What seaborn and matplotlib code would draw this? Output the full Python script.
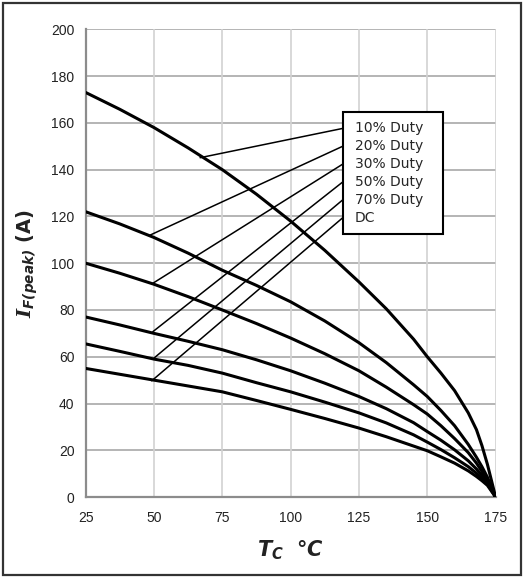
import pandas as pd
import matplotlib
matplotlib.use("Agg")
import matplotlib.pyplot as plt
import seaborn as sns
from matplotlib.patches import Rectangle

# data
tc = [25, 37.5, 50, 62.5, 75, 87.5, 100, 112.5, 125, 135, 145, 150, 155, 160, 165, 168, 170, 172, 175]
duty_10 = [173, 165.8, 158, 149.3, 140, 129.5, 118, 105.5, 92, 80.5, 67.5, 60, 53, 45.5, 36, 28.8, 22, 14, 0]
duty_20 = [122, 116.8, 111, 104.3, 97, 90.5, 83.5, 75.3, 66, 57.5, 48, 43, 37, 30.5, 22.5, 17, 13, 8.5, 0]
duty_30 = [100, 95.7, 91, 85.7, 80, 74.2, 68, 61.3, 54, 47, 39.5, 35.5, 30.5, 25, 19, 14.5, 11, 7.5, 0]
duty_50 = [77, 73.6, 70, 66.6, 63, 58.7, 54, 48.7, 43, 37.8, 31.8, 28, 24.3, 20.2, 15.5, 12, 9.3, 6.5, 0]
duty_70 = [65.5, 62.3, 59, 56.3, 53, 48.9, 45, 40.6, 36, 31.7, 26.6, 23.5, 20.3, 16.8, 13, 10.2, 8, 5.6, 0]
duty_dc = [55, 52.5, 50, 47.5, 45, 41.3, 37.5, 33.6, 29.5, 25.8, 21.8, 19.8, 17.2, 14.5, 11.2, 8.8, 7, 5, 0]
labels = ["10% Duty", "20% Duty", "30% Duty", "50% Duty", "70% Duty", "DC"]

# where each leader line touches its curve
leader_x = [66.9, 48.6, 49.2, 49.6, 49.6, 49.2]
leader_y = [145.1, 112, 91.1, 70.7, 59, 49.7]

xticks = [25, 50, 75, 100, 125, 150, 175]
yticks = list(range(0, 201, 20))

series = [duty_10, duty_20, duty_30, duty_50, duty_70, duty_dc]
df = pd.concat([pd.DataFrame({"Tc": tc, "IF": s, "duty": lab})
                for s, lab in zip(series, labels)])

sns.set_style("white")
plt.rcParams["mathtext.fontset"] = "custom"
plt.rcParams["mathtext.it"] = "DejaVu Serif:italic:bold"
plt.rcParams["mathtext.sf"] = "DejaVu Sans:italic:bold"
plt.rcParams["mathtext.rm"] = "DejaVu Sans:bold"
plt.rcParams["mathtext.bf"] = "DejaVu Sans:bold"

fig = plt.figure(figsize=(5.25, 5.8), dpi=100)
ax = fig.add_axes([0.163, 0.143, 0.781, 0.8065])

sns.lineplot(data=df, x="Tc", y="IF", hue="duty", palette={l: "black" for l in labels},
             linewidth=2.2, legend=False, ax=ax, zorder=3)

ax.set_xlim(25, 175)
ax.set_ylim(0, 200)
ax.set_xticks(xticks)
ax.set_yticks(yticks)
for y in yticks:
    ax.axhline(y, color="#a8a8a8", lw=1.2, zorder=1)
for x in xticks:
    ax.axvline(x, color="#d2d2d2", lw=1.2, zorder=1)
for side in ["top", "right"]:
    ax.spines[side].set_visible(False)
for side in ["left", "bottom"]:
    ax.spines[side].set_color("#8c8c8c")
    ax.spines[side].set_linewidth(1.6)

ax.tick_params(length=0, labelsize=10, colors="#222222")
ax.tick_params(axis="y", pad=8)
ax.tick_params(axis="x", pad=10)
for t in ax.get_xticklabels() + ax.get_yticklabels():
    t.set_family(["Liberation Sans Narrow", "Liberation Sans"])

ax.set_xlabel(r"$\mathsf{T_{C}}$  $\mathsf{°C}$", fontsize=15, color="#222222", labelpad=10)
ax.set_ylabel(r"$I_{\mathsf{F(peak)}}$ (A)", fontsize=14, fontweight="bold", color="#222222", labelpad=8)

# legend box with leader lines
box_l, box_r, box_b, box_t = 119.0, 155.6, 112.3, 164.5
row_y = [157.6 - 7.65 * i for i in range(len(labels))]
for lx, ly, ry in zip(leader_x, leader_y, row_y):
    ax.plot([lx, box_l], [ly, ry], color="black", lw=1.1, zorder=4)
ax.add_patch(Rectangle((box_l, box_b), box_r - box_l, box_t - box_b,
                       facecolor="white", edgecolor="black", lw=1.5, zorder=5))
for lab, ry in zip(labels, row_y):
    ax.text(123.4, ry, lab, fontsize=10, color="#262626", va="center", ha="left", zorder=6)

fig.patches.append(Rectangle((0.005, 0.009), 0.988, 0.986, transform=fig.transFigure,
                             fill=False, edgecolor="#333333", lw=1.6))

fig.savefig("out.png", dpi=100)
